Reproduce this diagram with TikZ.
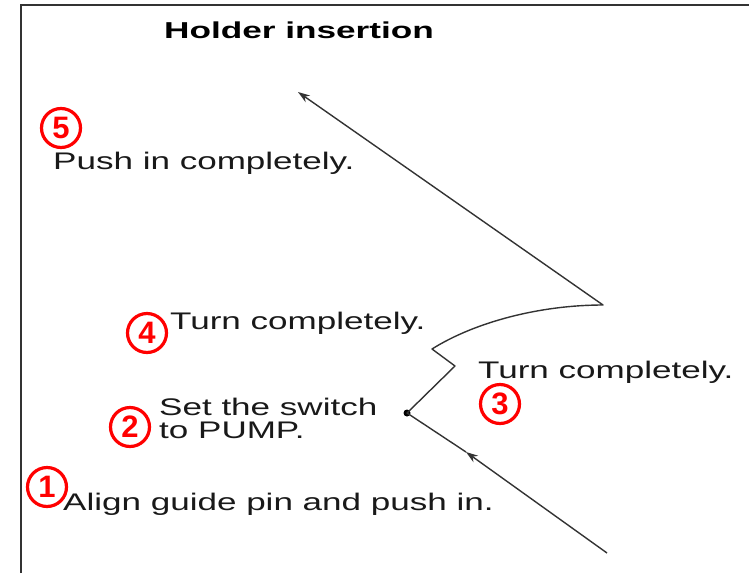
\documentclass[tikz,border=0pt]{standalone}
\usepackage{fontspec}
\setmainfont{Liberation Sans}
\newfontfamily\stepfont[FakeStretch=1.46]{Liberation Sans}
\newfontfamily\titlefont[FakeStretch=1.53]{Liberation Sans}
\usetikzlibrary{arrows.meta,positioning}

\begin{document}
\begin{tikzpicture}[x=1pt, y=-1pt,
  txt/.style={inner sep=0pt, font=\stepfont\fontsize{24}{22.7}\selectfont, text=black!90, align=left},
  num/.style={circle, draw=red, line width=3.2pt, text=red, minimum size=39pt, inner sep=0pt, font=\bfseries\fontsize{31}{31}\selectfont},
  move/.style={line width=1.4pt, black!80, line join=round},
  tip/.style={-{Stealth[length=12pt,width=8pt]}},
  dot/.style={circle, fill=black, inner sep=0pt, minimum size=7pt},
]
\useasboundingbox (0,0) rectangle (749,573);
\draw[line width=2pt, black!80] (21,573) -- (21,5) -- (749,5);

\node[anchor=base, inner sep=0pt, font=\titlefont\bfseries\fontsize{23}{23}\selectfont] (title) at (299,38) {Holder insertion};

% steps
\node[num] (n5) at (61,128) {5};
\node[txt, anchor=base west] (push) at (53,169) {Push in completely.};
\node[num] (n4) at (147,333) {4};
\node[txt, anchor=base west] (turnA) at (170,329) {Turn completely.};
\node[num] (n3) at (500,404) {3};
\node[txt, anchor=base west] (turnB) at (478,378) {Turn completely.};
\node[num] (n2) at (130,427) {2};
\node[txt, anchor=north west] (switch) at (159,398) {Set the switch\\to PUMP.};
\node[num] (n1) at (47,487) {1};
\node[txt, anchor=base west] (align) at (63,510) {Align guide pin and push in.};

% movement path
\coordinate (start) at (607,553);
\coordinate (mid) at (466,452);
\node[dot] (sw) at (407,413) {};
\coordinate (z1) at (455,366);
\coordinate (z2) at (432,349);
\coordinate (bend) at (603,305);
\coordinate (end) at (298,92);
\draw[move,tip] (start) -- (mid);
\draw[move,tip] (mid) -- (sw.center) -- (z1) -- (z2) .. controls (475,322) and (540,305) .. (bend) -- (end);
\end{tikzpicture}
\end{document}
